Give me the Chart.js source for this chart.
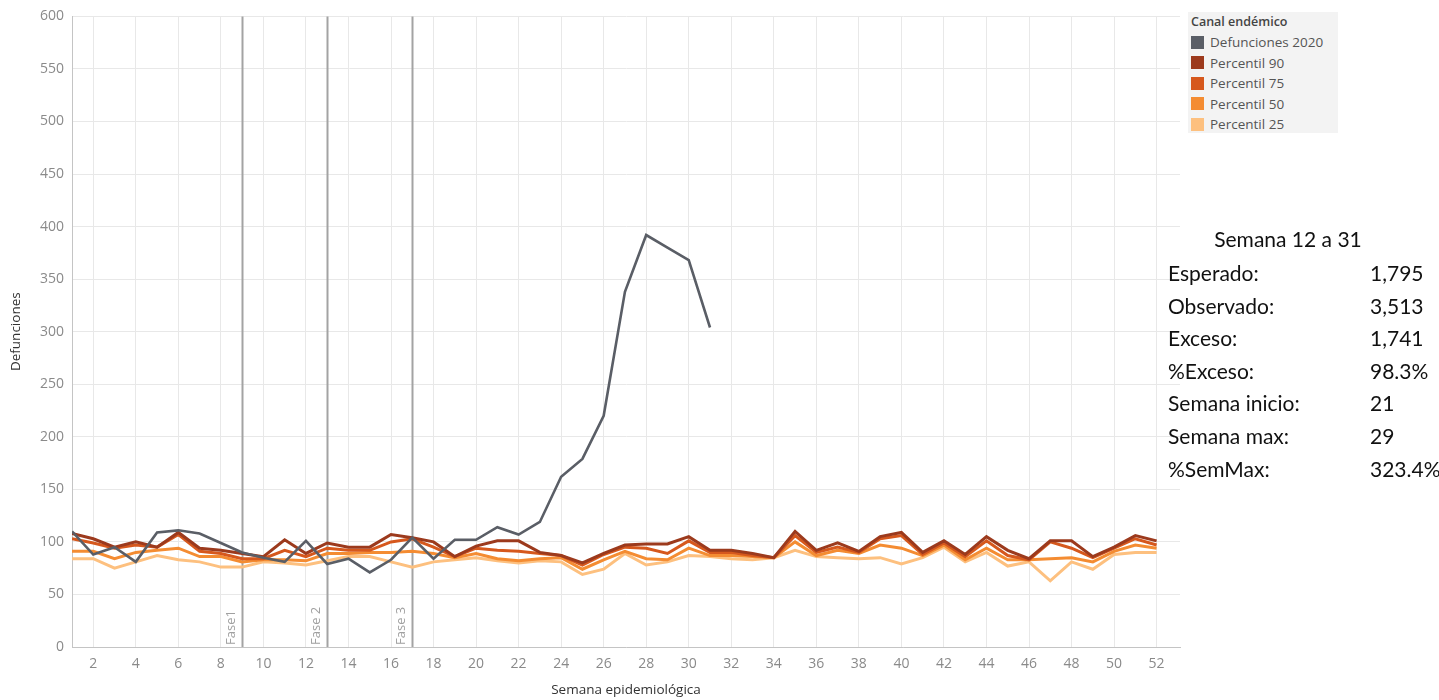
<!DOCTYPE html>
<html>
<head>
<meta charset="utf-8">
<script src="https://cdn.jsdelivr.net/npm/chart.js@4.4.1/dist/chart.umd.min.js"></script>
<style>
  body { margin: 0; background: #fff; font-family: Lato, "Open Sans", sans-serif; }
  #wrap { position: relative; width: 1439px; height: 700px; }
  #legend { position: absolute; left: 1188px; top: 12px; width: 150px; height: 121px; background: #f3f3f3; }
  #legend .ttl { font-family: "Open Sans", sans-serif; font-size: 12.5px; font-weight: 600; color: #444; margin: 1px 0 2px 3px; }
  #legend .row { display: flex; align-items: center; height: 20.5px; font-family: "Open Sans", sans-serif; font-size: 13.5px; color: #555; margin-left: 3px; }
  #legend .sw { width: 13px; height: 13px; margin-right: 6px; }
  #stats { position: absolute; left: 1168px; top: 226px; width: 270px; font-size: 21px; color: #111; }
  #stats .head { text-align: center; width: 240px; height: 34px; }
  #stats .r { height: 32.6px; position: relative; }
  #stats .r .v { position: absolute; left: 202px; }
</style>
</head>
<body>
<div id="wrap">
  <canvas id="chart" width="1439" height="700"></canvas>
  <div id="legend"></div>
  <div id="stats"></div>
</div>
<script>
'use strict';

let weeks = [1, 2, 3, 4, 5, 6, 7, 8, 9, 10, 11, 12, 13, 14, 15, 16, 17, 18, 19, 20, 21, 22, 23, 24, 25, 26,
  27, 28, 29, 30, 31, 32, 33, 34, 35, 36, 37, 38, 39, 40, 41, 42, 43, 44, 45, 46, 47, 48, 49, 50, 51, 52];

let def2020 = [110, 88, 95, 81, 109, 111, 108, 99, 90, 85, 81, 101, 79, 84, 71, 83, 104, 84, 102, 102,
  114, 107, 119, 162, 179, 220, 338, 392, 380, 368, 304];

let p90 = [108, 103, 95, 100, 95, 109, 94, 92, 89, 86, 102, 89, 99, 95, 95, 107, 104, 100, 86, 96,
  101, 101, 90, 87, 80, 89, 97, 98, 98, 105, 92, 92, 89, 85, 110, 92, 99, 91, 105, 109,
  90, 101, 88, 105, 92, 84, 101, 101, 86, 95, 106, 101];
let p75 = [103, 99, 94, 97, 95, 107, 91, 89, 84, 84, 92, 86, 94, 92, 92, 100, 103, 95, 86, 94,
  92, 91, 89, 87, 78, 88, 95, 94, 89, 101, 90, 90, 87, 85, 106, 90, 95, 90, 103, 106,
  88, 99, 86, 101, 87, 83, 100, 94, 85, 94, 103, 97];
let p50 = [91, 91, 84, 90, 92, 94, 86, 86, 81, 83, 83, 82, 89, 89, 90, 90, 91, 89, 85, 89,
  84, 82, 84, 85, 74, 83, 91, 84, 83, 94, 87, 87, 86, 85, 100, 87, 92, 89, 97, 94,
  87, 97, 83, 94, 83, 83, 84, 85, 81, 91, 97, 94];
let p25 = [84, 84, 75, 81, 87, 83, 81, 76, 76, 81, 80, 78, 82, 86, 86, 81, 76, 81, 83, 85,
  82, 80, 82, 81, 69, 74, 89, 78, 81, 87, 86, 84, 83, 85, 92, 86, 85, 84, 85, 79,
  85, 95, 81, 90, 77, 81, 63, 81, 74, 88, 90, 90];

let xTicks = [2, 4, 6, 8, 10, 12, 14, 16, 18, 20, 22, 24, 26, 28, 30, 32, 34, 36, 38, 40, 42, 44, 46, 48, 50, 52];

let phaseWeeks = [9, 13, 17];
let phaseNames = ['Fase1', 'Fase 2', 'Fase 3'];

let seriesNames = ['Defunciones 2020', 'Percentil 90', 'Percentil 75', 'Percentil 50', 'Percentil 25'];
let seriesColors = ['#5a5e66', '#9c3a1d', '#d6581d', '#f48c32', '#fdc07f'];

let statLabels = ['Esperado:', 'Observado:', 'Exceso:', '%Exceso:', 'Semana inicio:', 'Semana max:', '%SemMax:'];
let statValues = ['1,795', '3,513', '1,741', '98.3%', '21', '29', '323.4%'];

function toPoints(arr) {
  let pts = [];
  for (let i = 0; i < arr.length; i++) {
    pts.push({ x: weeks[i], y: arr[i] });
  }
  return pts;
}

// legend + stats panel as html
let legendElem = document.getElementById('legend');
let html = '<div class="ttl">Canal endémico</div>';
for (let i = 0; i < seriesNames.length; i++) {
  html += '<div class="row"><div class="sw" style="background:' + seriesColors[i] + '"></div>' + seriesNames[i] + '</div>';
}
legendElem.innerHTML = html;

let statsElem = document.getElementById('stats');
let s = '<div class="head">Semana 12 a 31</div>';
for (let i = 0; i < statLabels.length; i++) {
  s += '<div class="r"><span>' + statLabels[i] + '</span><span class="v">' + statValues[i] + '</span></div>';
}
statsElem.innerHTML = s;

const phaseLines = {
  id: 'phaseLines',
  beforeDatasetsDraw(chart) {
    let ctx = chart.ctx;
    let xs = chart.scales.x;
    let area = chart.chartArea;
    ctx.save();
    for (let i = 0; i < phaseWeeks.length; i++) {
      let px = Math.round(xs.getPixelForValue(phaseWeeks[i])) + 0.5;
      ctx.strokeStyle = '#a3a3a3';
      ctx.lineWidth = 2;
      ctx.beginPath();
      ctx.moveTo(px, area.top);
      ctx.lineTo(px, area.bottom);
      ctx.stroke();

      ctx.save();
      ctx.translate(px - 5, area.bottom - 2);
      ctx.rotate(-Math.PI / 2);
      ctx.fillStyle = '#a0a0a0';
      ctx.font = '13px "Open Sans", sans-serif';
      ctx.textAlign = 'left';
      ctx.textBaseline = 'bottom';
      ctx.fillText(phaseNames[i], 0, 0);
      ctx.restore();
    }
    ctx.restore();
  }
};

function line(idx, arr, width) {
  return {
    label: seriesNames[idx],
    data: toPoints(arr),
    borderColor: seriesColors[idx],
    backgroundColor: seriesColors[idx],
    borderWidth: width,
    pointRadius: 0,
    tension: 0,
    order: idx
  };
}

const config = {
  type: 'line',
  data: {
    datasets: [
      line(0, def2020, 2.6),
      line(1, p90, 3),
      line(2, p75, 3),
      line(3, p50, 3),
      line(4, p25, 3)
    ]
  },
  options: {
    responsive: false,
    animation: false,
    layout: { padding: { left: 0, right: 259, top: 7, bottom: 0 } },
    plugins: {
      legend: { display: false },
      tooltip: { enabled: false }
    },
    scales: {
      x: {
        type: 'linear',
        min: 1,
        max: 53.1,
        afterBuildTicks: function (scale) {
          scale.ticks = xTicks.map(v => ({ value: v }));
        },
        afterFit: function (scale) { scale.height = 53; },
        grid: { color: '#e8e8e8', drawTicks: false },
        border: { color: '#c4c4c4', width: 1 },
        ticks: {
          autoSkip: false,
          maxRotation: 0,
          padding: 9,
          color: '#8a8a8a',
          font: { family: '"Open Sans", sans-serif', size: 14 }
        },
        title: {
          display: true,
          text: 'Semana epidemiológica',
          color: '#333',
          font: { family: '"Open Sans", sans-serif', size: 13.5 },
          padding: { top: 0, bottom: 2 }
        }
      },
      y: {
        min: 0,
        max: 600,
        afterFit: function (scale) { scale.width = 72; },
        grid: { color: '#e8e8e8', drawTicks: false },
        border: { color: '#c4c4c4', width: 1 },
        ticks: {
          stepSize: 50,
          autoSkip: false,
          padding: 8,
          color: '#8a8a8a',
          font: { family: '"Open Sans", sans-serif', size: 14 }
        },
        title: {
          display: true,
          text: 'Defunciones',
          color: '#333',
          font: { family: '"Open Sans", sans-serif', size: 13.5 },
          padding: { top: 8, bottom: 0 }
        }
      }
    }
  },
  plugins: [phaseLines]
};

new Chart(document.getElementById('chart'), config);
</script>
</body>
</html>
